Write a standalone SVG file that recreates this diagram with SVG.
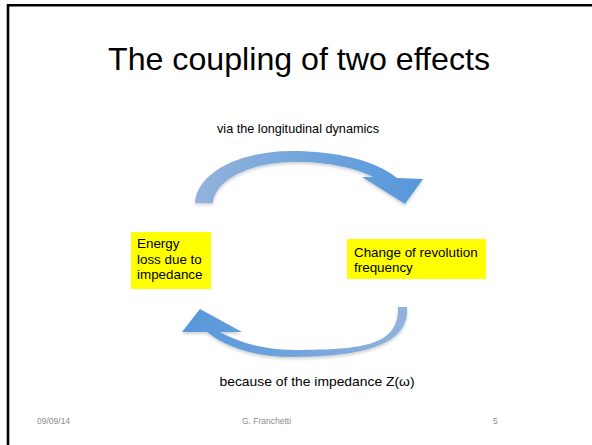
<svg xmlns="http://www.w3.org/2000/svg" width="592" height="445" viewBox="0 0 592 445">
  <defs>
    <style>
      text { font-family: "Liberation Sans", Arial, sans-serif; fill: #000; }
      .title { font-size: 32px; }
      .label { font-size: 13.5px; }
      .box-text { font-size: 13.4px; }
      .box { fill: #ffff00; }
      .footer { font-size: 8.5px; fill: #8c8c8c; }
      .frame { fill: none; stroke: #000; stroke-width: 2.6; }
    </style>
    <linearGradient id="gradTop" gradientUnits="userSpaceOnUse" x1="195" y1="0" x2="425" y2="0">
      <stop offset="0" stop-color="#93b3dc"/>
      <stop offset="0.55" stop-color="#6ea3dc"/>
      <stop offset="1" stop-color="#5697da"/>
    </linearGradient>
    <linearGradient id="gradBottom" gradientUnits="userSpaceOnUse" x1="410" y1="0" x2="180" y2="0">
      <stop offset="0" stop-color="#93b3dc"/>
      <stop offset="0.55" stop-color="#6ea3dc"/>
      <stop offset="1" stop-color="#5697da"/>
    </linearGradient>
    <filter id="shadow" x="-10%" y="-10%" width="120%" height="140%">
      <feDropShadow dx="0" dy="2" stdDeviation="1.5" flood-color="#000" flood-opacity="0.18"/>
    </filter>
  </defs>

  <!-- slide frame -->
  <path class="frame" d="M8 445 V5.2 H592"/>

  <!-- title -->
  <text class="title" x="299" y="70" text-anchor="middle" textLength="382" lengthAdjust="spacingAndGlyphs">The coupling of two effects</text>

  <!-- curved arrows -->
  <g id="connectors">
    <path id="arrow-top" filter="url(#shadow)" fill="url(#gradTop)"
          d="M195,203 C197,172 240,151 292,151 C335,151 375,160 397,178 L423,179 L405,204 L362,177 L373,177 C355,168 330,162 295,162 C250,162 215,180 213,203 Z"/>
    <path id="arrow-bottom" filter="url(#shadow)" fill="url(#gradBottom)"
          d="M407,307 C410,342 370,357 293,357 C255,357 225,347 207,332 L182,332 L200,309 L242,332 L220,332 C240,343 265,350 295,350 C365,350 399,345 398,307 Z"/>
    <text class="label" x="298" y="133" text-anchor="middle" textLength="162" lengthAdjust="spacingAndGlyphs">via the longitudinal dynamics</text>
    <text class="label" x="317" y="386" text-anchor="middle" textLength="195" lengthAdjust="spacingAndGlyphs">because of the impedance Z(ω)</text>
  </g>

  <!-- node: energy loss -->
  <g id="node-energy-loss">
    <rect class="box" x="131" y="232" width="80" height="57"/>
    <text class="box-text" x="137" y="248">Energy</text>
    <text class="box-text" x="137" y="263.5">loss due to</text>
    <text class="box-text" x="137" y="279">impedance</text>
  </g>

  <!-- node: revolution frequency -->
  <g id="node-revolution-frequency">
    <rect class="box" x="347" y="239" width="139" height="40"/>
    <text class="box-text" x="354" y="257">Change of revolution</text>
    <text class="box-text" x="354" y="272">frequency</text>
  </g>

  <!-- footer -->
  <text class="footer" x="37" y="424">09/09/14</text>
  <text class="footer" x="266.5" y="424" text-anchor="middle">G. Franchetti</text>
  <text class="footer" x="493" y="424">5</text>
</svg>
